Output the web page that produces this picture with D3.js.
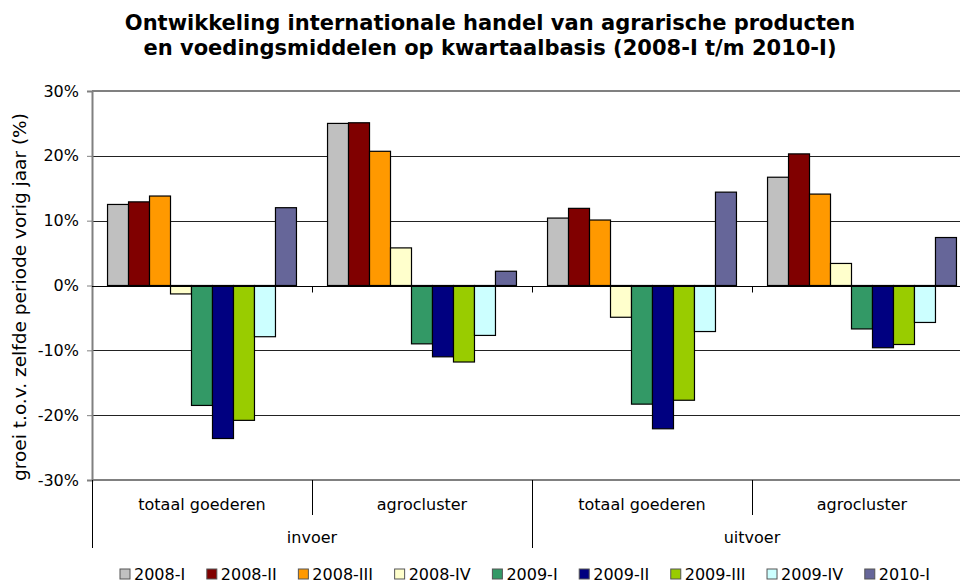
<!DOCTYPE html>
<html>
<head>
<meta charset="utf-8">
<script src="https://cdn.jsdelivr.net/npm/d3@7"></script>
<style>
  html, body { margin: 0; padding: 0; background: #fff; }
  svg { display: block; font-family: "DejaVu Sans", Verdana, sans-serif; }
</style>
</head>
<body>
<svg id="chart" width="960" height="585"></svg>
<script>
// Categories: product group (inner level) and trade flow (outer level)
const categories = ["totaal goederen", "agrocluster", "totaal goederen", "agrocluster"];
const flows = ["invoer", "uitvoer"];

// Quarterly periods (series)
const periods = ["2008-I", "2008-II", "2008-III", "2008-IV", "2009-I", "2009-II", "2009-III", "2009-IV", "2010-I"];
const colors = ["#C0C0C0", "#800000", "#FF9900", "#FFFFCC", "#339966", "#000080", "#99CC00", "#CCFFFF", "#666699"];

// Growth vs. same period previous year (%), per category in order above
const s2008_I   = [12.5, 25.0, 10.4, 16.7];
const s2008_II  = [12.9, 25.1, 11.9, 20.3];
const s2008_III = [13.8, 20.7, 10.1, 14.1];
const s2008_IV  = [-1.3,  5.8, -4.9,  3.4];
const s2009_I   = [-18.5, -9.0, -18.3, -6.7];
const s2009_II  = [-23.6, -11.0, -22.1, -9.6];
const s2009_III = [-20.8, -11.8, -17.7, -9.1];
const s2009_IV  = [-7.9, -7.7, -7.1, -5.7];
const s2010_I   = [12.0,  2.2, 14.4,  7.4];
const seriesValues = [s2008_I, s2008_II, s2008_III, s2008_IV, s2009_I, s2009_II, s2009_III, s2009_IV, s2010_I];

const yTicks = [-30, -20, -10, 0, 10, 20, 30];

const svg = d3.select("#chart");
const plotLeft = 92, plotRight = 972, plotTop = 91, plotBottom = 480;

const x0 = d3.scaleBand().domain(d3.range(categories.length)).range([plotLeft, plotRight]).padding(0);
const x1 = d3.scaleBand().domain(periods).range([0, x0.bandwidth()]).paddingInner(0).paddingOuter(0.74);
const y = d3.scaleLinear().domain([-30, 30]).range([plotBottom, plotTop]);

// Title
const title = svg.append("text")
  .attr("x", 490).attr("text-anchor", "middle")
  .attr("font-size", 21).attr("font-weight", "bold").attr("fill", "#000");
title.append("tspan").attr("x", 490).attr("y", 30).text("Ontwikkeling internationale handel van agrarische producten");
title.append("tspan").attr("x", 490).attr("y", 55).text("en voedingsmiddelen op kwartaalbasis (2008-I t/m 2010-I)");

// Gridlines
svg.append("g").selectAll("line")
  .data(yTicks.filter(d => d !== 0 && Math.abs(d) !== 30))
  .join("line")
  .attr("x1", plotLeft).attr("x2", plotRight)
  .attr("y1", d => Math.round(y(d)) + 0.5).attr("y2", d => Math.round(y(d)) + 0.5)
  .attr("stroke", "#222").attr("stroke-width", 1);

// Plot area border (top and bottom)
[30, -30].forEach(v => {
  svg.append("line")
    .attr("x1", plotLeft).attr("x2", plotRight)
    .attr("y1", Math.round(y(v))).attr("y2", Math.round(y(v)))
    .attr("stroke", "#808080").attr("stroke-width", 2);
});

// Y axis
const yAxis = d3.axisLeft(y).tickValues(yTicks).tickFormat(d => d + "%").tickSize(5).tickPadding(8);
const gy = svg.append("g").attr("transform", `translate(${plotLeft},0)`).call(yAxis);
gy.select(".domain").attr("stroke", "#808080").attr("stroke-width", 2);
gy.selectAll(".tick line").attr("stroke", "#808080");
gy.selectAll(".tick text").attr("font-size", 16).attr("fill", "#000")
  .attr("font-family", "DejaVu Sans, Verdana, sans-serif");

// Y axis title
svg.append("text")
  .attr("transform", "translate(26,297) rotate(-90)")
  .attr("text-anchor", "middle")
  .attr("font-size", 18.5).attr("fill", "#000")
  .text("groei t.o.v. zelfde periode vorig jaar (%)");

// Bars
const barData = [];
categories.forEach((c, ci) => {
  periods.forEach((p, pi) => {
    barData.push({ ci, p, pi, v: seriesValues[pi][ci] });
  });
});
svg.append("g").selectAll("rect")
  .data(barData)
  .join("rect")
  .attr("x", d => x0(d.ci) + x1(d.p))
  .attr("width", x1.bandwidth())
  .attr("y", d => y(Math.max(0, d.v)))
  .attr("height", d => Math.abs(y(d.v) - y(0)))
  .attr("fill", d => colors[d.pi])
  .attr("stroke", "#000").attr("stroke-width", 1.2);

// Zero axis with group tick marks
const y0 = Math.round(y(0)) + 0.5;
svg.append("line").attr("x1", plotLeft).attr("x2", plotRight).attr("y1", y0).attr("y2", y0)
  .attr("stroke", "#000").attr("stroke-width", 1);
svg.append("g").selectAll("line")
  .data(d3.range(1, categories.length))
  .join("line")
  .attr("x1", d => x0(d) + 0.5).attr("x2", d => x0(d) + 0.5)
  .attr("y1", y0).attr("y2", y0 + 6)
  .attr("stroke", "#000");

// Multi-level category axis below plot
const catG = svg.append("g");
catG.selectAll("line.inner")
  .data([1, 3])
  .join("line").attr("class", "inner")
  .attr("x1", d => x0(d) + 0.5).attr("x2", d => x0(d) + 0.5)
  .attr("y1", plotBottom).attr("y2", 515)
  .attr("stroke", "#000");
catG.selectAll("line.outer")
  .data([0, 2])
  .join("line").attr("class", "outer")
  .attr("x1", d => x0(d) + 0.5).attr("x2", d => x0(d) + 0.5)
  .attr("y1", plotBottom).attr("y2", 548)
  .attr("stroke", "#000");
catG.selectAll("text.cat")
  .data(categories)
  .join("text").attr("class", "cat")
  .attr("x", (d, i) => x0(i) + x0.bandwidth() / 2)
  .attr("y", 510)
  .attr("text-anchor", "middle").attr("font-size", 16).attr("fill", "#000")
  .text(d => d);
catG.selectAll("text.flow")
  .data(flows)
  .join("text").attr("class", "flow")
  .attr("x", (d, i) => x0(i * 2) + x0.bandwidth())
  .attr("y", 543)
  .attr("text-anchor", "middle").attr("font-size", 16).attr("fill", "#000")
  .text(d => d);

// Legend: items spread evenly between the given left and right extent
const legendLeft = 120, legendRight = 930;
const legend = svg.append("g").attr("transform", "translate(0,580)");
const legendItems = periods.map((p, i) => {
  const g = legend.append("g");
  g.append("rect").attr("x", 0).attr("y", -11).attr("width", 10).attr("height", 10)
    .attr("fill", colors[i]).attr("stroke", "#555").attr("stroke-width", 1);
  const t = g.append("text").attr("x", 14).attr("y", 0).attr("font-size", 16).attr("fill", "#000").text(p);
  return { g, w: 14 + t.node().getComputedTextLength() };
});
const used = d3.sum(legendItems, d => d.w);
const gap = (legendRight - legendLeft - used) / (legendItems.length - 1);
let lx = legendLeft;
legendItems.forEach(d => {
  d.g.attr("transform", `translate(${lx},0)`);
  lx += d.w + gap;
});
</script>
</body>
</html>
